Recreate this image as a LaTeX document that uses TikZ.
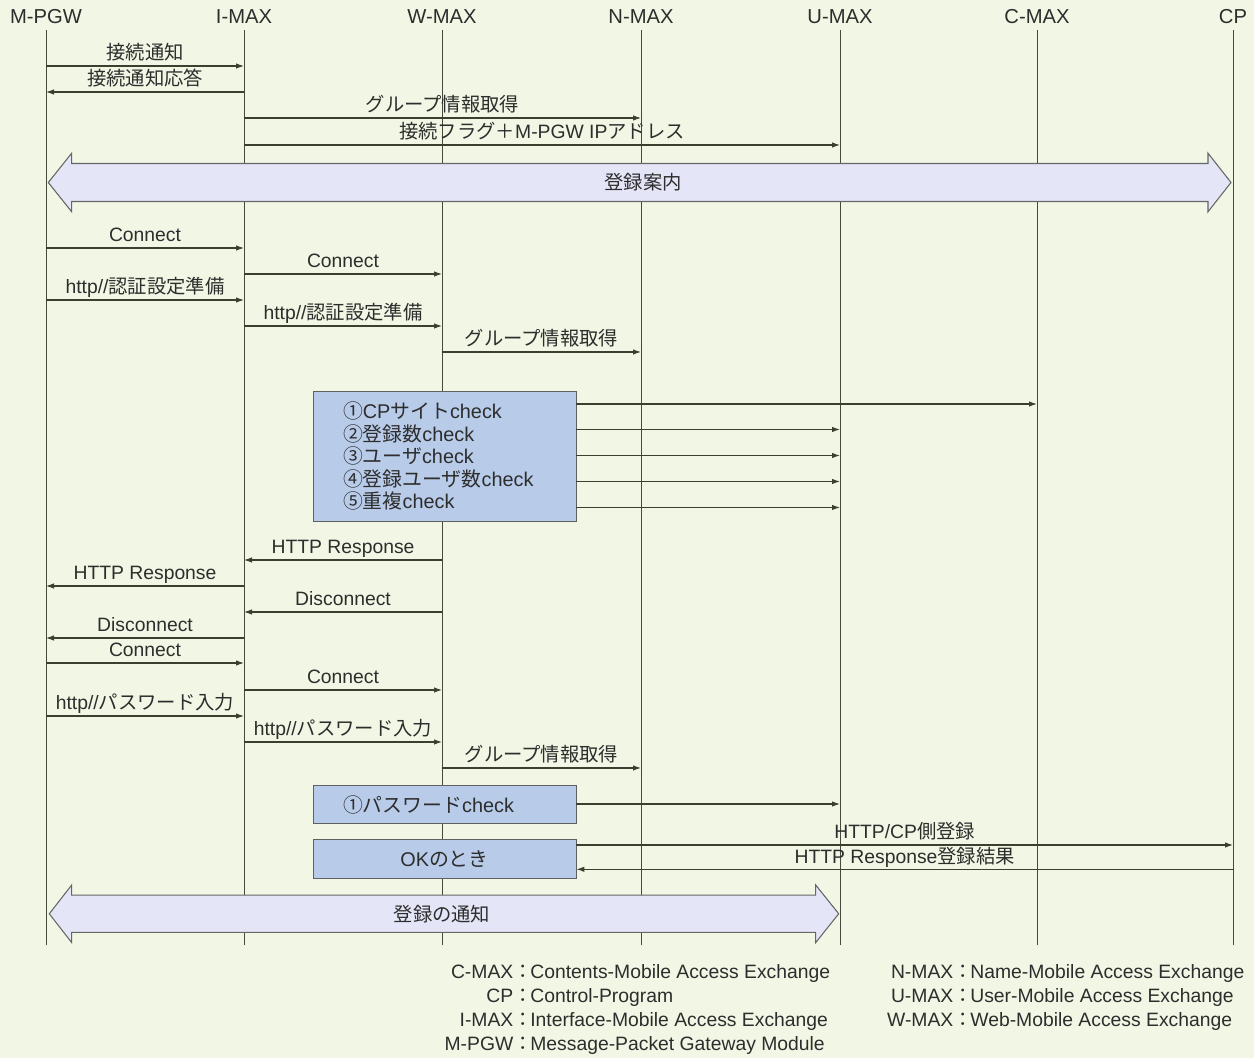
\documentclass[tikz,border=0pt]{standalone}
\usepackage{fontspec}
\setmainfont{Liberation Sans}
\newfontfamily\jp{Noto Sans CJK JP}
\usepackage{tikz}
\usetikzlibrary{arrows.meta,positioning}
\definecolor{bgcol}{RGB}{241,247,228}
\definecolor{boxcol}{RGB}{184,204,234}
\definecolor{bandcol}{RGB}{228,230,247}
\definecolor{linecol}{RGB}{58,64,48}
\definecolor{txtcol}{RGB}{45,45,45}

\begin{document}
\begin{tikzpicture}[font=\fontsize{11}{13}\selectfont, text=txtcol,
		head/.style={font=\fontsize{11.5}{13}\selectfont},
		life/.style={draw=linecol!85!gray, line width=0.5pt},
		msg/.style={draw=linecol, line width=0.6pt, -{Latex[length=1.6mm,width=1.1mm]}},
		lbl/.style={above, inner sep=0.4mm, text height=2.6mm, text depth=0.7mm},
		chkbox/.style={draw=gray!75!black, fill=boxcol, line width=0.5pt, inner xsep=6mm, inner ysep=0pt, text width=40.6mm, font=\fontsize{11.3}{12.8}\selectfont},
		band/.style={draw=gray!80!black, fill=bandcol, line width=0.6pt},
		legl/.style={anchor=east, inner sep=0, text height=2.6mm, text depth=0.7mm},
		legr/.style={anchor=west, inner sep=0, text height=2.6mm, text depth=0.7mm}]
				%\draw[color=gray,step=1mm, help lines,opacity=0.3] (0mm,0mm) grid (251mm,212mm); %help grids
				%\draw[color=red,step=10mm, opacity=0.4] (0mm,0mm) grid (251mm,212mm); %help grids
				\fill[bgcol] (0mm,0mm) rectangle (250.8mm,211.6mm);

				\node[head] (pgw) at (9.2mm,208.2mm) {M-PGW};
				\node[head] (imax) at (48.8mm,208.2mm) {I-MAX};
				\node[head] (wmax) at (88.4mm,208.2mm) {W-MAX};
				\node[head] (nmax) at (128.2mm,208.2mm) {N-MAX};
				\node[head] (umax) at (168mm,208.2mm) {U-MAX};
				\node[head] (cmax) at (207.4mm,208.2mm) {C-MAX};
				\node[head] (cp) at (246.6mm,208.2mm) {CP};

				\draw[life] (pgw |- 0,205.6mm)--(pgw |- 0,22.6mm);
				\draw[life] (imax |- 0,205.6mm)--(imax |- 0,22.6mm);
				\draw[life] (wmax |- 0,205.6mm)--(wmax |- 0,22.6mm);
				\draw[life] (nmax |- 0,205.6mm)--(nmax |- 0,22.6mm);
				\draw[life] (umax |- 0,205.6mm)--(umax |- 0,22.6mm);
				\draw[life] (cmax |- 0,205.6mm)--(cmax |- 0,22.6mm);
				\draw[life] (cp |- 0,205.6mm)--(cp |- 0,22.6mm);

				\draw[msg] (pgw |- 0,198.4mm)--(imax |- 0,198.4mm) node[lbl,midway] {{\jp 接続通知}};
				\draw[msg] (imax |- 0,193.2mm)--(pgw |- 0,193.2mm) node[lbl,midway] {{\jp 接続通知応答}};
				\draw[msg] (imax |- 0,188mm)--(nmax |- 0,188mm) node[lbl,midway] {{\jp グループ情報取得}};
				\draw[msg] (imax |- 0,182.6mm)--(umax |- 0,182.6mm) node[lbl,midway] {{\jp 接続フラグ＋}M-PGW IP{\jp アドレス}};

				\draw[band] (9.66mm,175.1mm)--(14.34mm,180.96mm)--(14.34mm,178.9mm)--(241.6mm,178.9mm)--(241.6mm,180.96mm)--(246.2mm,175.1mm)
					--(241.6mm,169.24mm)--(241.6mm,171.3mm)--(14.34mm,171.3mm)--(14.34mm,169.24mm)--cycle;
				\node (guide) at (128.6mm,175.1mm) {{\jp 登録案内}};

				\draw[msg] (pgw |- 0,162mm)--(imax |- 0,162mm) node[lbl,midway] {Connect};
				\draw[msg] (imax |- 0,156.8mm)--(wmax |- 0,156.8mm) node[lbl,midway] {Connect};
				\draw[msg] (pgw |- 0,151.6mm)--(imax |- 0,151.6mm) node[lbl,midway] {http//{\jp 認証設定準備}};
				\draw[msg] (imax |- 0,146.4mm)--(wmax |- 0,146.4mm) node[lbl,midway] {http//{\jp 認証設定準備}};
				\draw[msg] (wmax |- 0,141.2mm)--(nmax |- 0,141.2mm) node[lbl,midway] {{\jp グループ情報取得}};

				\node[chkbox, align=left, minimum height=26mm] (chk) at (88.9mm,120.4mm) {{\jp ①}CP{\jp サイト}check\\{\jp ②登録数}check\\{\jp ③ユーザ}check\\{\jp ④登録ユーザ数}check\\{\jp ⑤重複}check};
				\draw[msg] (chk.east |- 0,130.8mm)--(cmax |- 0,130.8mm);
				\draw[msg] (chk.east |- 0,125.7mm)--(umax |- 0,125.7mm);
				\draw[msg] (chk.east |- 0,120.5mm)--(umax |- 0,120.5mm);
				\draw[msg] (chk.east |- 0,115.3mm)--(umax |- 0,115.3mm);
				\draw[msg] (chk.east |- 0,110.1mm)--(umax |- 0,110.1mm);

				\draw[msg] (wmax |- 0,99.6mm)--(imax |- 0,99.6mm) node[lbl,midway] {HTTP Response};
				\draw[msg] (imax |- 0,94.4mm)--(pgw |- 0,94.4mm) node[lbl,midway] {HTTP Response};
				\draw[msg] (wmax |- 0,89.2mm)--(imax |- 0,89.2mm) node[lbl,midway] {Disconnect};
				\draw[msg] (imax |- 0,84mm)--(pgw |- 0,84mm) node[lbl,midway] {Disconnect};
				\draw[msg] (pgw |- 0,79mm)--(imax |- 0,79mm) node[lbl,midway] {Connect};
				\draw[msg] (imax |- 0,73.6mm)--(wmax |- 0,73.6mm) node[lbl,midway] {Connect};
				\draw[msg] (pgw |- 0,68.4mm)--(imax |- 0,68.4mm) node[lbl,midway] {http//{\jp パスワード入力}};
				\draw[msg] (imax |- 0,63.2mm)--(wmax |- 0,63.2mm) node[lbl,midway] {http//{\jp パスワード入力}};
				\draw[msg] (wmax |- 0,58mm)--(nmax |- 0,58mm) node[lbl,midway] {{\jp グループ情報取得}};

				\node[chkbox, align=left, minimum height=7.5mm] (pwbox) at (88.9mm,50.7mm) {{\jp ①パスワード}check};
				\draw[msg] (pwbox.east |- 0,50.8mm)--(umax |- 0,50.8mm);
				\node[chkbox, align=center, minimum height=7.7mm] (okbox) at (88.9mm,39.77mm) {OK{\jp のとき}};
				\draw[msg] (okbox.east |- 0,42.6mm)--(cp |- 0,42.6mm) node[lbl,midway] {HTTP/CP{\jp 側登録}};
				\draw[msg] (cp |- 0,37.74mm)--(okbox.east |- 0,37.74mm) node[lbl,midway] {HTTP Response{\jp 登録結果}};

				\draw[band] (9.86mm,28.84mm)--(14.34mm,34.6mm)--(14.34mm,32.56mm)--(163.14mm,32.56mm)--(163.14mm,34.6mm)--(167.74mm,28.84mm)
					--(163.14mm,23.08mm)--(163.14mm,25.12mm)--(14.34mm,25.12mm)--(14.34mm,23.08mm)--cycle;
				\node (notice) at (88.4mm,28.84mm) {{\jp 登録の通知}};

				\node[legl] (lc) at (106.6mm,16.8mm) {C-MAX{\jp ：}};
				\node[legr] (lcd) at (106mm,16.8mm) {Contents-Mobile Access Exchange};
				\node[legl] (lp) at (106.6mm,12mm) {CP{\jp ：}};
				\node[legr] (lpd) at (106mm,12mm) {Control-Program};
				\node[legl] (li) at (106.6mm,7.2mm) {I-MAX{\jp ：}};
				\node[legr] (lid) at (106mm,7.2mm) {Interface-Mobile Access Exchange};
				\node[legl] (lm) at (106.6mm,2.4mm) {M-PGW{\jp ：}};
				\node[legr] (lmd) at (106mm,2.4mm) {Message-Packet Gateway Module};
				\node[legl] (ln) at (194.6mm,16.8mm) {N-MAX{\jp ：}};
				\node[legr] (lnd) at (194mm,16.8mm) {Name-Mobile Access Exchange};
				\node[legl] (lu) at (194.6mm,12mm) {U-MAX{\jp ：}};
				\node[legr] (lud) at (194mm,12mm) {User-Mobile Access Exchange};
				\node[legl] (lw) at (194.6mm,7.2mm) {W-MAX{\jp ：}};
				\node[legr] (lwd) at (194mm,7.2mm) {Web-Mobile Access Exchange};
\end{tikzpicture}
\end{document}
